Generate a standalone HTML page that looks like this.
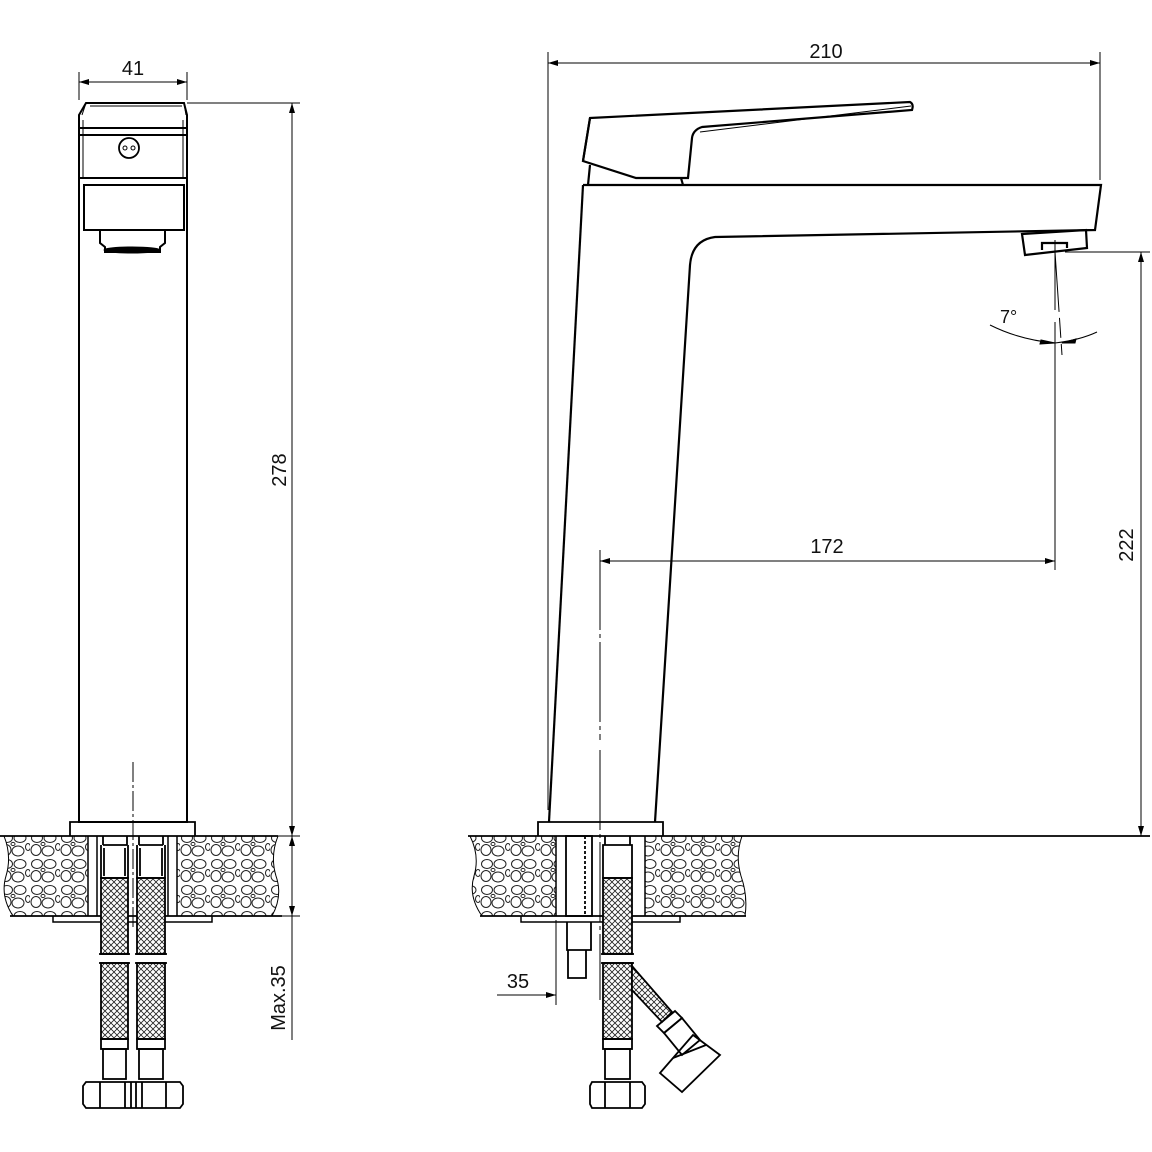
<!DOCTYPE html>
<html><head><style>html,body{margin:0;padding:0;background:#fff}svg{display:block}</style></head>
<body>
<svg width="1152" height="1152" viewBox="0 0 1152 1152" xmlns="http://www.w3.org/2000/svg" font-family="Liberation Sans, sans-serif">
<defs>
<pattern id="stone" width="30" height="26" patternUnits="userSpaceOnUse">
<rect width="30" height="26" fill="#fff"/>
<g fill="none" stroke="#222" stroke-width="1">
<ellipse cx="7" cy="6" rx="5.5" ry="4.5"/><ellipse cx="20" cy="6" rx="6" ry="4.5"/>
<ellipse cx="6" cy="18" rx="5" ry="5.5"/><ellipse cx="18" cy="19" rx="6" ry="5"/>
<ellipse cx="28" cy="15" rx="2.5" ry="3.5"/><ellipse cx="13" cy="12" rx="2" ry="1.6"/>
</g>
</pattern>
<pattern id="mesh" width="6" height="6" patternUnits="userSpaceOnUse">
<rect width="6" height="6" fill="#fff"/>
<path d="M0 0L6 6M6 0L0 6" stroke="#222" stroke-width="0.8"/>
</pattern>
<marker id="ar" viewBox="0 0 10 6" refX="10" refY="3" markerWidth="10" markerHeight="6" orient="auto-start-reverse" markerUnits="userSpaceOnUse">
<path d="M0 0L10 3L0 6z" fill="#000"/>
</marker>
</defs>
<g stroke="#000" fill="none" stroke-width="1">

<!-- LEFT VIEW -->
<path d="M79 72V100M187 72V100"/>
<line x1="79" y1="82" x2="187" y2="82" marker-start="url(#ar)" marker-end="url(#ar)"/>
<g stroke-width="2">
<path d="M86 103H184L187 115V178H79V115Z"/>
<path d="M79 128H187M79 135H187"/>
<path d="M84 185H184V230H84Z"/>
<path d="M79 178V822H187V178"/>
<path d="M100 230V243L105 247V252H160V247L165 243V230"/>
</g>
<path d="M90 106H182M86 103L82 115M184 103L186 115M83 120V178M183 120V178"/>
<circle cx="129" cy="148" r="10" stroke-width="1.8"/>
<circle cx="125" cy="148" r="2"/><circle cx="133" cy="148" r="2"/>
<ellipse cx="132" cy="250" rx="28" ry="3" fill="#000"/>
<path d="M70 836V822H195V836" stroke-width="1.8"/>
<path d="M4 836Q12 856 6 876Q0 896 13 916H88V836ZM177 836H278Q270 856 276 876Q283 896 272 916H177Z" fill="url(#stone)" stroke-width="1"/>
<path d="M0 836H278M10 916H282" stroke-width="1.8"/>
<path d="M88 836V916M97 836V916M168 836V916M177 836V916" stroke-width="1.5"/>
<path d="M53 916V922H212V916" stroke-width="1.5"/>
<g stroke-width="1.8">
<rect x="101" y="878" width="27" height="76" fill="url(#mesh)"/>
<rect x="137" y="878" width="28" height="76" fill="url(#mesh)"/>
<rect x="101" y="963" width="27" height="76" fill="url(#mesh)"/>
<rect x="137" y="963" width="28" height="76" fill="url(#mesh)"/>
<path d="M103 845H127M103 836V845M127 836V845M101 845V878H128V845M104 848V876M125 848V876"/>
<path d="M139 845H163M139 836V845M163 836V845M137 845V878H165V845M140 848V876M162 848V876"/>
<path d="M99 954H130M99 963H130M135 954H167M135 963H167"/>
<rect x="101" y="1039" width="27" height="10"/><rect x="137" y="1039" width="28" height="10"/>
<rect x="103" y="1049" width="23" height="30"/><rect x="139" y="1049" width="24" height="30"/>
<path d="M86 1082H180L183 1086V1104L180 1108H86L83 1104V1086Z"/>
<path d="M100 1082V1108M125 1082V1108M131 1082V1108M136 1082V1108M142 1082V1108M166 1082V1108"/>
</g>
<path d="M133 762V930" stroke-dasharray="20 3 3 3"/>
<path d="M187 103H300M278 836H300M278 916H300"/>
<line x1="292" y1="103" x2="292" y2="836" marker-start="url(#ar)" marker-end="url(#ar)"/>
<line x1="292" y1="836" x2="292" y2="916" marker-start="url(#ar)" marker-end="url(#ar)"/>
<path d="M292 916V1040"/>

<!-- RIGHT VIEW -->
<path d="M548 52V810M1100 52V180"/>
<line x1="548" y1="63" x2="1100" y2="63" marker-start="url(#ar)" marker-end="url(#ar)"/>
<g stroke-width="2.2">
<path d="M583 185H1101L1095 230L715 237Q692 240 690 265L655 822"/>
<path d="M583 185L549 822"/>
<path d="M590 118L910 102Q914 104 912 110L702 127Q693 130 692 138L688 178H636L583 161Z"/>
<path d="M590 118L583 161M590 165L588 185M681 178L683 185"/>
<path d="M700 132L911 106" stroke-width="1"/>
<path d="M1022 234L1086 230L1087 248L1025 255Z"/>
<path d="M1042 250V243H1067V248"/>
</g>
<path d="M1055 240V310M1055 322V570"/>
<path d="M1055 252L1062 355" stroke-dasharray="60 6 20 6 60"/>
<path d="M990 325Q1020 340 1055 343Q1080 340 1097 332"/>
<path d="M1040 344L1055 343L1041 340Z" fill="#000"/>
<path d="M1075 343L1062 343L1076 339Z" fill="#000"/>
<path d="M1065 252H1150M660 836H1150"/>
<line x1="1141" y1="252" x2="1141" y2="836" marker-start="url(#ar)" marker-end="url(#ar)"/>
<line x1="600" y1="561" x2="1055" y2="561" marker-start="url(#ar)" marker-end="url(#ar)"/>
<path d="M600 550V740M600 750V1000" stroke-dasharray="80 4 4 4"/>
<path d="M538 836V822H663V836" stroke-width="1.8"/>
<path d="M470 836Q480 856 474 876Q468 896 482 916H556V836ZM645 836H742Q735 856 741 876Q748 896 745 916H645Z" fill="url(#stone)"/>
<path d="M468 836H1150M480 916H746" stroke-width="1.8"/>
<path d="M556 836V916M645 836V916" stroke-width="1.5"/>
<path d="M521 916V922H680V916" stroke-width="1.5"/>
<g stroke-width="1.8">
<rect x="566" y="836" width="26" height="80"/>
<path d="M585 836V916" stroke-dasharray="3 2"/>
<path d="M567 922V950H591V922M568 950V978H586V950M572 978H583"/>
<rect x="603" y="878" width="29" height="76" fill="url(#mesh)"/>
<rect x="603" y="963" width="29" height="76" fill="url(#mesh)"/>
<path d="M605 836V845M630 836V845M603 845H632V878H603ZM601 954H634M601 963H634"/>
<rect x="603" y="1039" width="29" height="10"/><rect x="605" y="1049" width="25" height="30"/>
<path d="M592 1082H642L645 1086V1104L642 1108H592L590 1104V1086Z"/>
<path d="M605 1082V1108M630 1082V1108"/>
<path d="M632 966L672 1012L662 1022L632 990Z" fill="url(#mesh)"/>
<path d="M657 1026L675 1011L682 1018L664 1033Z"/>
<path d="M664 1033L682 1018L700 1040L682 1055Z"/>
<path d="M660 1073L693 1035L720 1055L682 1092Z"/>
<path d="M673 1058L706 1045"/>
</g>
<path d="M556 920V1005"/>
<line x1="497" y1="995" x2="556" y2="995" marker-end="url(#ar)"/>
</g>

<g fill="#111" font-size="20">
<text x="133" y="75" text-anchor="middle">41</text>
<text x="826" y="58" text-anchor="middle">210</text>
<text x="827" y="553" text-anchor="middle">172</text>
<text x="518" y="988" text-anchor="middle">35</text>
<text x="1000" y="323" font-size="18">7°</text>
<text transform="translate(286,470) rotate(-90)" text-anchor="middle">278</text>
<text transform="translate(1133,545) rotate(-90)" text-anchor="middle">222</text>
<text transform="translate(285,998) rotate(-90)" text-anchor="middle">Max.35</text>
</g>
</svg>
</body></html>
